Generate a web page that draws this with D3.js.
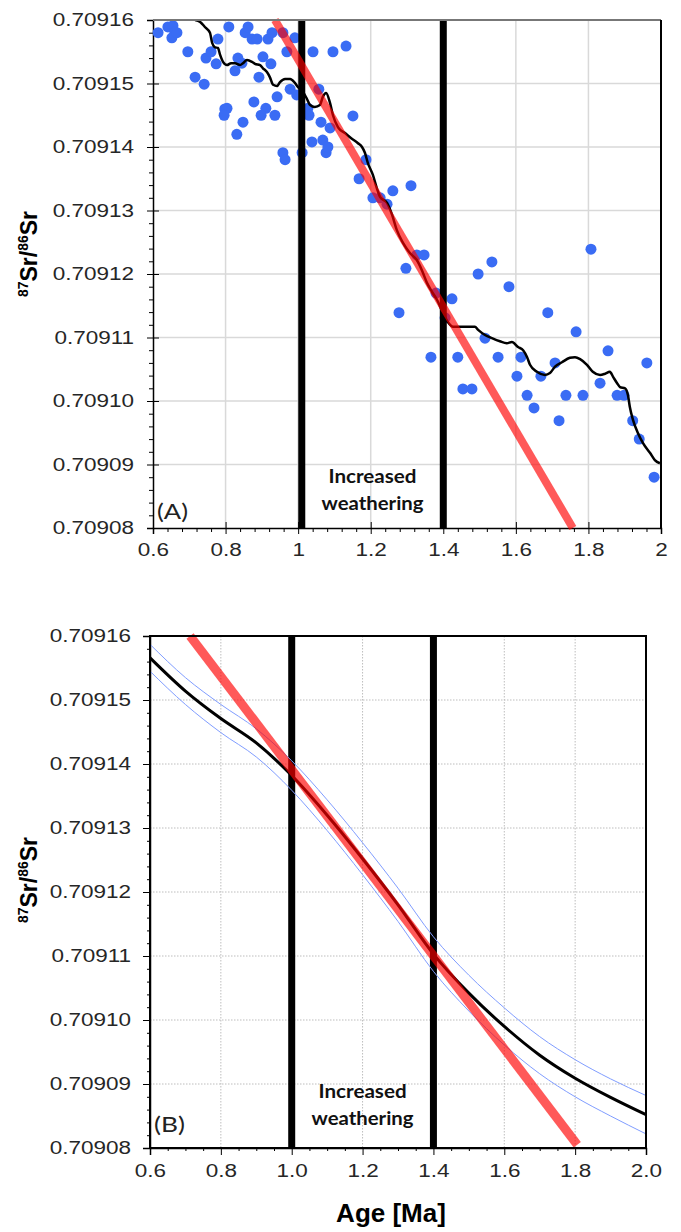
<!DOCTYPE html>
<html>
<head>
<meta charset="utf-8">
<script src="https://cdn.jsdelivr.net/npm/d3@7"></script>
<style>
body { margin: 0; background: #fff; }
svg { display: block; }
</style>
</head>
<body>
<div id="container"></div>
<script>
// ---- data ----
const X_TICKS = [0.6, 0.8, 1.0, 1.2, 1.4, 1.6, 1.8, 2.0]
const Y_TICKS = [0.70908, 0.70909, 0.70910, 0.70911, 0.70912, 0.70913, 0.70914, 0.70915, 0.70916]
const X_LABELS_A = ['0.6', '0.8', '1', '1.2', '1.4', '1.6', '1.8', '2']
const X_LABELS_B = ['0.6', '0.8', '1.0', '1.2', '1.4', '1.6', '1.8', '2.0']

// panel A: measured samples
const samples_age = [0.614,0.641,0.655,0.660,0.652,0.666,0.696,0.716,0.741,0.746,0.760,0.774,0.779,0.809,0.798,0.804,0.796,0.831,0.848,0.826,0.834,0.845,0.854,0.862,0.873,0.887,0.878,0.892,0.903,0.911,0.898,0.925,0.917,0.928,0.936,0.942,0.958,0.964,0.969,0.978,0.991,0.996,1.011,1.027,1.030,1.038,1.041,1.057,1.063,1.068,1.077,1.082,1.088,1.096,1.132,1.151,1.187,1.168,1.261,1.311,1.206,1.226,1.245,1.327,1.347,1.297,1.278,1.380,1.424,1.405,1.496,1.534,1.581,1.515,1.366,1.440,1.551,1.614,1.454,1.479,1.603,1.631,1.807,1.688,1.766,1.854,1.961,1.708,1.669,1.832,1.738,1.785,1.879,1.898,1.650,1.719,1.922,1.940,1.981,0.958]
const samples_sr = [0.7091580,0.7091589,0.7091591,0.7091581,0.7091572,0.7091580,0.7091550,0.7091510,0.7091499,0.7091540,0.7091550,0.7091531,0.7091570,0.7091589,0.7091460,0.7091461,0.7091450,0.7091420,0.7091439,0.7091520,0.7091540,0.7091532,0.7091580,0.7091589,0.7091570,0.7091570,0.7091471,0.7091510,0.7091542,0.7091461,0.7091450,0.7091531,0.7091570,0.7091580,0.7091450,0.7091479,0.7091391,0.7091380,0.7091550,0.7091491,0.7091572,0.7091482,0.7091391,0.7091461,0.7091450,0.7091408,0.7091550,0.7091491,0.7091439,0.7091411,0.7091391,0.7091400,0.7091430,0.7091550,0.7091559,0.7091449,0.7091380,0.7091350,0.7091331,0.7091339,0.7091320,0.7091320,0.7091310,0.7091230,0.7091230,0.7091209,0.7091139,0.7091170,0.7091161,0.7091131,0.7091200,0.7091219,0.7091180,0.7091099,0.7091069,0.7091069,0.7091069,0.7091069,0.7091019,0.7091019,0.7091039,0.7091009,0.7091239,0.7091139,0.7091109,0.7091079,0.7091060,0.7091060,0.7091039,0.7091028,0.7091009,0.7091009,0.7091009,0.7091009,0.7090989,0.7090969,0.7090969,0.7090940,0.7090880,0.7091580]

// panel A: running mean (black)
const mean_age_A = [0.716,0.730,0.743,0.757,0.763,0.771,0.779,0.785,0.793,0.804,0.815,0.826,0.840,0.848,0.859,0.873,0.881,0.895,0.903,0.914,0.922,0.931,0.942,0.950,0.964,0.978,0.991,1.000,1.013,1.024,1.033,1.046,1.060,1.068,1.077,1.088,1.096,1.110,1.129,1.148,1.165,1.176,1.184,1.192,1.206,1.217,1.226,1.245,1.259,1.272,1.289,1.308,1.327,1.341,1.355,1.369,1.383,1.399,1.413,1.427,1.451,1.474,1.487,1.496,1.515,1.534,1.556,1.575,1.589,1.606,1.620,1.631,1.639,1.658,1.680,1.694,1.708,1.727,1.749,1.763,1.777,1.796,1.812,1.832,1.846,1.859,1.868,1.879,1.887,1.901,1.909,1.914,1.923,1.936,1.950,1.970,1.983,1.997]
const mean_sr_A = [0.7091600,0.7091597,0.7091589,0.7091580,0.7091564,0.7091557,0.7091556,0.7091545,0.7091534,0.7091529,
  0.7091532,0.7091532,0.7091529,0.7091532,0.7091537,0.7091534,0.7091531,0.7091529,0.7091524,0.7091518,
  0.7091510,0.7091498,0.7091496,0.7091502,0.7091507,0.7091507,0.7091501,0.7091494,0.7091487,0.7091476,
  0.7091466,0.7091463,0.7091466,0.7091479,0.7091485,0.7091469,0.7091450,0.7091431,0.7091422,0.7091413,
  0.7091406,0.7091400,0.7091391,0.7091375,0.7091356,0.7091335,0.7091321,0.7091312,0.7091293,0.7091269,
  0.7091249,0.7091233,0.7091222,0.7091206,0.7091186,0.7091172,0.7091159,0.7091139,0.7091124,0.7091117,
  0.7091117,0.7091117,0.7091117,0.7091112,0.7091104,0.7091099,0.7091094,0.7091091,0.7091093,0.7091085,
  0.7091080,0.7091069,0.7091057,0.7091046,0.7091041,0.7091044,0.7091054,0.7091061,0.7091068,0.7091069,
  0.7091066,0.7091057,0.7091046,0.7091041,0.7091043,0.7091046,0.7091038,0.7091028,0.7091022,0.7091020,
  0.7091009,0.7090991,0.7090970,0.7090950,0.7090934,0.7090918,0.7090907,0.7090902]

// panel B: smoothed curve with its band
const fit_age_B = [0.6,0.7,0.8,0.9,1.0,1.1,1.2,1.3,1.4,1.5,1.6,1.7,1.8,1.9,2.0]
const fit_sr_B = [0.7091566,0.7091514,0.7091471,0.7091433,0.7091382,0.7091320,0.7091252,0.7091180,0.7091103,0.7091042,0.7090990,0.7090945,0.7090909,0.7090879,0.7090852]
const upper_sr_B = [0.7091587,0.7091535,0.7091493,0.7091455,0.7091405,0.7091344,0.7091277,0.7091206,0.7091130,0.7091070,0.7091019,0.7090974,0.7090938,0.7090908,0.7090882]
const lower_sr_B = [0.7091545,0.7091493,0.7091449,0.7091411,0.7091359,0.7091296,0.7091227,0.7091154,0.7091076,0.7091014,0.7090961,0.7090916,0.7090880,0.7090850,0.7090822]

// red trend lines and weathering window
const trend_age_A = [0.936, 1.757]
const trend_sr_A = [0.70916, 0.70908]
const trend_age_B = [0.713, 1.806]
const trend_sr_B = [0.70916, 0.7090805]
const window_A = [1.01, 1.40]
const window_B = [1.00, 1.40]

const W = 681, H = 1232
const TICK_FONT = '"Liberation Sans", Arial, sans-serif'
const NOTE_FONT = 'Lato, "Open Sans", sans-serif'

const svg = d3.select('#container').append('svg')
  .attr('width', W)
  .attr('height', H)

function build_panel(p) {
  const x = d3.scaleLinear().domain([0.6, 2.0]).range([p.left, p.right])
  const y = d3.scaleLinear().domain([0.70908, 0.70916]).range([p.bottom, p.top])
  const g = svg.append('g')

  // grid
  g.append('g').selectAll('line').data(X_TICKS.slice(1, -1)).join('line')
    .attr('x1', d => x(d)).attr('x2', d => x(d))
    .attr('y1', p.top).attr('y2', p.bottom)
    .attr('stroke', p.grid).attr('stroke-width', p.gridWidth)
    .attr('stroke-dasharray', p.gridDash)
  g.append('g').selectAll('line').data(Y_TICKS.slice(1, -1)).join('line')
    .attr('x1', p.left).attr('x2', p.right)
    .attr('y1', d => y(d)).attr('y2', d => y(d))
    .attr('stroke', p.grid).attr('stroke-width', p.gridWidth)
    .attr('stroke-dasharray', p.gridDash)

  // minor ticks
  const minorY = d3.range(0, 41).filter(i => i % 5 != 0).map(i => 0.70908 + i * 0.000002)
  const minorX = d3.range(p.minorStep, 1.4, p.minorStep).map(d => 0.6 + d)
    .filter(d => Math.abs((d - 0.6) / 0.2 - Math.round((d - 0.6) / 0.2)) > 0.01)
  g.append('g').attr('transform', `translate(${p.left},0)`)
    .call(d3.axisLeft(y).tickValues(minorY).tickFormat('').tickSize(p.minorLen))
    .call(a => a.select('.domain').remove())
  g.append('g').attr('transform', `translate(0,${p.bottom})`)
    .call(d3.axisBottom(x).tickValues(minorX).tickFormat('').tickSize(p.minorLen))
    .call(a => a.select('.domain').remove())

  // major axes
  const ya = g.append('g').attr('transform', `translate(${p.left},0)`)
    .call(d3.axisLeft(y).tickValues(Y_TICKS).tickFormat(d3.format('.5f')).tickSize(p.majorOut))
  ya.selectAll('.tick line').attr('x1', p.majorIn)
  ya.selectAll('.tick text')
    .attr('x', -15.2)
    .attr('transform', 'scale(1.25,1)')
    .style('font-family', TICK_FONT).style('font-size', '18px').attr('fill', '#262626')

  const xa = g.append('g').attr('transform', `translate(0,${p.bottom})`)
    .call(d3.axisBottom(x).tickValues(X_TICKS).tickFormat((d, i) => p.xLabels[i]).tickSize(p.majorOut))
  xa.selectAll('.tick line').attr('y1', -p.majorIn)
  xa.selectAll('.tick text')
    .attr('y', p.xLabelY).attr('dy', 0)
    .attr('transform', 'scale(1.25,1)')
    .style('font-family', TICK_FONT).style('font-size', '18px').attr('fill', '#262626')

  svg.selectAll('.domain').attr('stroke', '#000').attr('stroke-width', 1.5)

  // y axis title
  const yt = g.append('text')
    .attr('transform', `translate(${p.titleX},${p.titleY}) rotate(-90)`)
    .attr('text-anchor', 'middle')
    .style('font-family', TICK_FONT).style('font-weight', 'bold').style('font-size', '23px')
  yt.append('tspan').text('87').style('font-size', '14px').attr('dy', -9)
  yt.append('tspan').text('Sr/').attr('dy', 9)
  yt.append('tspan').text('86').style('font-size', '14px').attr('dy', -9)
  yt.append('tspan').text('Sr').attr('dy', 9)

  return { g, x, y }
}

function draw_window(P, p, win) {
  P.g.append('g').selectAll('line').data(win).join('line')
    .attr('x1', d => P.x(d)).attr('x2', d => P.x(d))
    .attr('y1', p.top + 1).attr('y2', p.bottom)
    .attr('stroke', '#000').attr('stroke-width', 7)
}

function draw_notes(P, p, letter) {
  const cx = (P.x(p.win[0]) + P.x(p.win[1])) / 2
  P.g.append('text').text('Increased')
    .attr('x', cx).attr('y', p.noteY).attr('text-anchor', 'middle')
    .attr('textLength', 88).attr('lengthAdjust', 'spacingAndGlyphs')
    .style('font-family', NOTE_FONT).style('font-weight', 'bold').style('font-size', '18px')
    .attr('fill', '#111')
  P.g.append('text').text('weathering')
    .attr('x', cx).attr('y', p.noteY + 27).attr('text-anchor', 'middle')
    .attr('textLength', 102).attr('lengthAdjust', 'spacingAndGlyphs')
    .style('font-family', NOTE_FONT).style('font-weight', 'bold').style('font-size', '18px')
    .attr('fill', '#111')
  P.g.append('text').text(letter)
    .attr('x', p.left + 4).attr('y', p.letterY)
    .attr('textLength', 31).attr('lengthAdjust', 'spacingAndGlyphs')
    .style('font-family', NOTE_FONT).style('font-size', '21px').attr('fill', '#222')
}

function draw_trend(P, ages, srs, w) {
  P.g.append('line')
    .attr('x1', P.x(ages[0])).attr('y1', P.y(srs[0]))
    .attr('x2', P.x(ages[1])).attr('y2', P.y(srs[1]))
    .attr('stroke', '#ff0000').attr('stroke-opacity', 0.65).attr('stroke-width', w)
}

// ---- panel A ----
const pa = { left: 153, right: 661, top: 20, bottom: 528,
  grid: '#d9d9d9', gridWidth: 1.5, gridDash: null,
  minorStep: 0.04, minorLen: 4, majorOut: 6, majorIn: 6,
  xLabels: X_LABELS_A, xLabelY: 28, titleX: 37, titleY: 254,
  win: window_A, noteY: 483, letterY: 519 }
const A = build_panel(pa)

svg.append('clipPath').attr('id', 'clipA').append('rect')
  .attr('x', pa.left).attr('y', pa.top).attr('width', pa.right - pa.left).attr('height', pa.bottom - pa.top)

A.g.append('g').selectAll('circle').data(samples_age).join('circle')
  .attr('cx', d => A.x(d))
  .attr('cy', (d, i) => A.y(samples_sr[i]))
  .attr('r', 5.5)
  .attr('fill', '#3a6cf4')

draw_window(A, pa, window_A)

A.g.append('path')
  .datum(mean_age_A.map((d, i) => [d, mean_sr_A[i]]))
  .attr('clip-path', 'url(#clipA)')
  .attr('fill', 'none').attr('stroke', '#000').attr('stroke-width', 2.5)
  .attr('d', d3.line().x(d => A.x(d[0])).y(d => A.y(d[1])).curve(d3.curveMonotoneX))

draw_trend(A, trend_age_A, trend_sr_A, 8)

// frame: grey top, black right
A.g.append('line').attr('x1', pa.left).attr('x2', pa.right).attr('y1', pa.top).attr('y2', pa.top)
  .attr('stroke', '#777').attr('stroke-width', 2)
A.g.append('line').attr('x1', pa.right).attr('x2', pa.right).attr('y1', pa.top).attr('y2', pa.bottom)
  .attr('stroke', '#000').attr('stroke-width', 2)
draw_notes(A, pa, '(A)')

// ---- panel B ----
const pb = { left: 150, right: 646, top: 636, bottom: 1148,
  grid: '#bdbdbd', gridWidth: 1, gridDash: '1.5,1.5',
  minorStep: 0.05, minorLen: 3, majorOut: 7, majorIn: 0,
  xLabels: X_LABELS_B, xLabelY: 29, titleX: 37, titleY: 880,
  win: window_B, noteY: 1098, letterY: 1132 }
const B = build_panel(pb)

draw_window(B, pb, window_B)

const lineB = d3.line().x(d => B.x(d[0])).y(d => B.y(d[1])).curve(d3.curveMonotoneX)
B.g.append('path').datum(fit_age_B.map((d, i) => [d, upper_sr_B[i]]))
  .attr('fill', 'none').attr('stroke', '#809dff').attr('stroke-width', 1).attr('d', lineB)
B.g.append('path').datum(fit_age_B.map((d, i) => [d, lower_sr_B[i]]))
  .attr('fill', 'none').attr('stroke', '#809dff').attr('stroke-width', 1).attr('d', lineB)
B.g.append('path').datum(fit_age_B.map((d, i) => [d, fit_sr_B[i]]))
  .attr('fill', 'none').attr('stroke', '#000').attr('stroke-width', 3).attr('d', lineB)

draw_trend(B, trend_age_B, trend_sr_B, 9)

B.g.append('rect')
  .attr('x', pb.left).attr('y', pb.top).attr('width', pb.right - pb.left).attr('height', pb.bottom - pb.top)
  .attr('fill', 'none').attr('stroke', '#000').attr('stroke-width', 2)
draw_notes(B, pb, '(B)')

svg.append('text').text('Age [Ma]')
  .attr('x', 391).attr('y', 1222).attr('text-anchor', 'middle')
  .style('font-family', TICK_FONT).style('font-weight', 'bold').style('font-size', '26px')
</script>
</body>
</html>
